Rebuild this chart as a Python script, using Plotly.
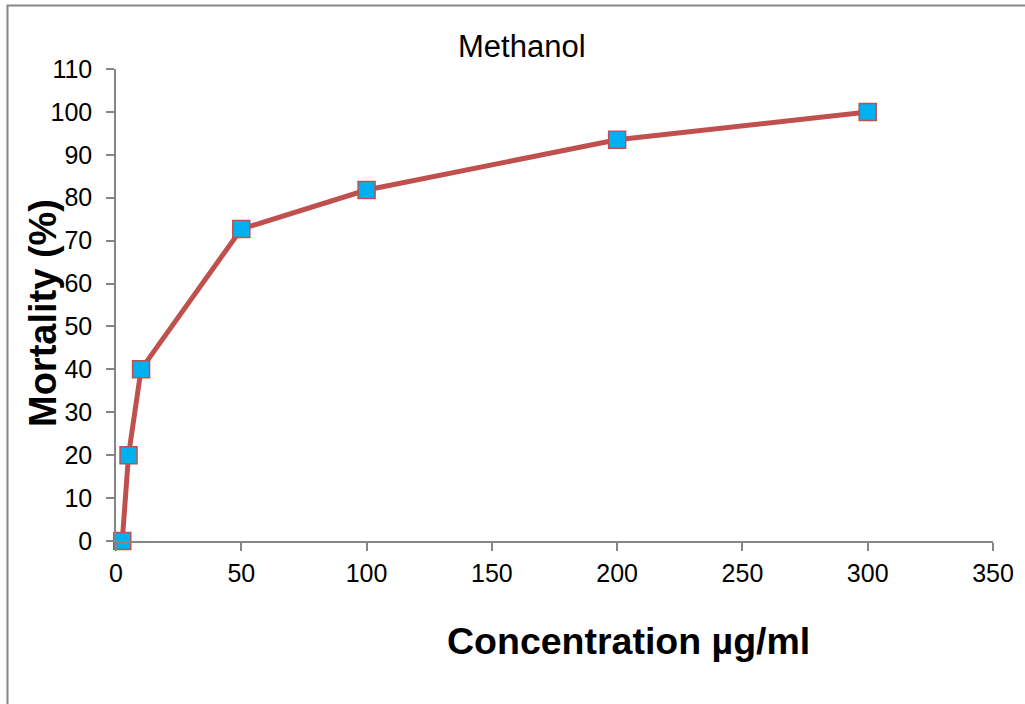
import plotly.graph_objects as go

concentration = [2.5, 5, 10, 50, 100, 200, 300]
mortality = [0, 20, 40, 72.7, 81.8, 93.5, 100]
x_ticks = [0, 50, 100, 150, 200, 250, 300, 350]
y_ticks = [0, 10, 20, 30, 40, 50, 60, 70, 80, 90, 100, 110]

W, H = 1025, 704
# target plot area in screen pixels
L, R, T, B = 116, 993, 69, 541
pw, ph = R - L, B - T

def px(xs):
    return (xs - L) / pw

def py(ys):
    return (B - ys) / ph

fig = go.Figure()
fig.add_trace(go.Scatter(
    x=concentration, y=mortality, mode="lines+markers",
    line=dict(color="#C0504D", width=5),
    marker=dict(symbol="square", size=17, color="#00B0F0",
                line=dict(color="#C0504D", width=1.5)),
    showlegend=False, cliponaxis=False,
))

axis_font = dict(family="Liberation Sans, Arial", size=25, color="black")
fig.update_layout(
    width=W, height=H,
    margin=dict(l=L, r=W - R, t=T, b=H - B),
    paper_bgcolor="white", plot_bgcolor="white",
    xaxis=dict(range=[0, 350], tickvals=x_ticks, showgrid=False, zeroline=False,
               showline=True, linecolor="#868686", linewidth=1.5,
               ticks="outside", ticklen=8, tickcolor="#868686", tickwidth=1.5,
               ticklabelstandoff=1, tickfont=axis_font),
    yaxis=dict(range=[0, 110], tickvals=y_ticks, showgrid=False, zeroline=False,
               showline=True, linecolor="#868686", linewidth=1.5,
               ticks="outside", ticklen=8, tickcolor="#868686", tickwidth=1.5,
               ticklabelstandoff=9, tickfont=axis_font),
    shapes=[dict(type="rect", xref="paper", yref="paper",
                 x0=px(7.5), x1=px(1040), y0=py(720), y1=py(5.5),
                 line=dict(color="#868686", width=2), fillcolor="rgba(0,0,0,0)",
                 layer="below")],
    annotations=[
        dict(text="Methanol", xref="paper", yref="paper", x=px(521.5), y=py(46),
             showarrow=False, font=dict(family="Liberation Sans, Arial", size=31, color="black"),
             xanchor="center", yanchor="middle"),
        dict(text="<b>Mortality (%)</b>", xref="paper", yref="paper", x=px(43), y=py(313),
             showarrow=False, textangle=-90,
             font=dict(family="Liberation Sans, Arial", size=38, color="black"),
             xanchor="center", yanchor="middle"),
        dict(text="<b>Concentration µg/ml</b>", xref="paper", yref="paper", x=px(628), y=py(641),
             showarrow=False,
             font=dict(family="Liberation Sans, Arial", size=37.5, color="black"),
             xanchor="center", yanchor="middle"),
    ],
)

fig.write_html("out.html",
               config={"displayModeBar": False},
               post_script="document.body.style.margin='0';document.body.style.overflow='hidden';")
